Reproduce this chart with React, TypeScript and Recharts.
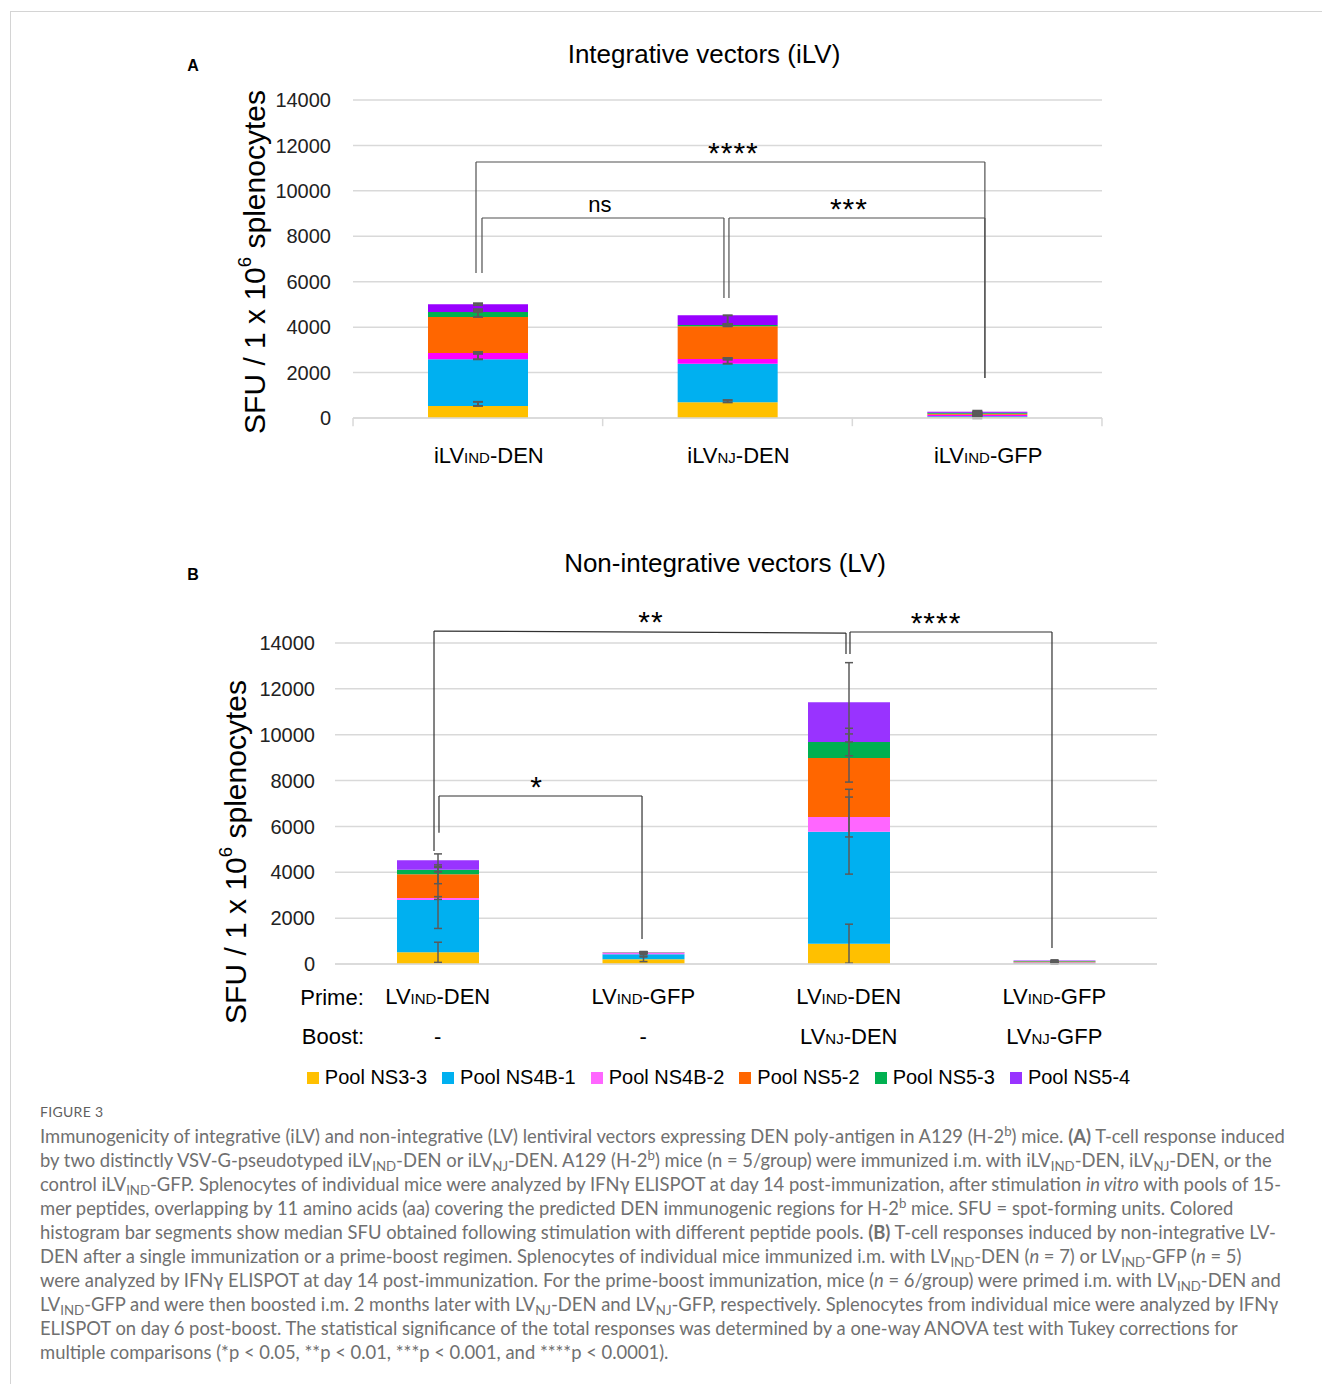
import React from 'react';
import { BarChart, Bar, XAxis, YAxis, CartesianGrid, ErrorBar, ReferenceLine, Legend } from 'recharts';

const FONT = '"Liberation Sans", Arial, sans-serif';

// peptide pools (legend order = stack order, bottom to top)
const pools = ['Pool NS3-3', 'Pool NS4B-1', 'Pool NS4B-2', 'Pool NS5-2', 'Pool NS5-3', 'Pool NS5-4'];
const poolKeys = ['ns33', 'ns4b1', 'ns4b2', 'ns52', 'ns53', 'ns54'];
const colorsA = ['#FFC000', '#00B0F0', '#FF00FF', '#FF6600', '#00B050', '#9900FF'];
const colorsB = ['#FFC000', '#00B0F0', '#FF66FF', '#FF6600', '#00B050', '#9933FF'];
const yTicks = [0, 2000, 4000, 6000, 8000, 10000, 12000, 14000];

// Panel A - integrative vectors
const groupsA = ['iLVIND-DEN', 'iLVNJ-DEN', 'iLVIND-GFP'];
const vectorA = ['IND', 'NJ', 'IND'];
const insertA = ['DEN', 'DEN', 'GFP'];
const ns33A = [530, 690, 30];
const ns4b1A = [2055, 1700, 50];
const ns4b2A = [280, 207, 60];
const ns52A = [1585, 1440, 50];
const ns53A = [220, 57, 40];
const ns54A = [340, 427, 50];
const errNs33A = [[0, 180], [0, 100], [40, 40]];
const errNs4b1A = [[0, 300], [0, 250], [40, 40]];
const errNs4b2A = [[40, 40], [30, 30], [40, 40]];
const errNs52A = [[0, 280], [0, 80], [40, 40]];
const errNs53A = [[0, 120], [30, 30], [40, 40]];
const errNs54A = [[40, 40], [380, 0], [40, 40]];

// Panel B - non-integrative vectors
const groupsB = ['LVIND-DEN', 'LVIND-GFP', 'LVIND-DEN/LVNJ-DEN', 'LVIND-GFP/LVNJ-GFP'];
const primeVecB = ['IND', 'IND', 'IND', 'IND'];
const primeInsB = ['DEN', 'GFP', 'DEN', 'GFP'];
const boostVecB = ['', '', 'NJ', 'NJ'];
const boostInsB = ['', '', 'DEN', 'GFP'];
const ns33B = [510, 205, 886, 20];
const ns4b1B = [2281, 218, 4884, 30];
const ns4b2B = [87, 57, 641, 30];
const ns52B = [1034, 10, 2573, 30];
const ns53B = [201, 10, 698, 20];
const ns54B = [409, 10, 1731, 20];
const errNs33B = [440, 100, 850, 30];
const errNs4b1B = [1240, 80, 1850, 30];
const errNs4b2B = [60, 60, 870, 30];
const errNs52B = [410, 30, 1050, 30];
const errNs53B = [100, 30, 600, 30];
const errNs54B = [280, 30, 1730, 30];

// significance brackets (x = group index, y in SFU)
const bracketsA = [
  { label: '****', x1: -0.0074, x2: 2.031, yL: 11270, yR: 11270, y1: 6385, y2: 1760, dx: 3 },
  { label: 'ns', x1: 0.0166, x2: 0.9858, yL: 8806, yR: 8806, y1: 6385, y2: 5284, dx: -3 },
  { label: '***', x1: 1.0058, x2: 2.031, yL: 8806, yR: 8806, y1: 5284, y2: 1760, dx: -8 },
];
const bracketsB = [
  { label: '**', x1: -0.0182, x2: 1.9866, yL: 14520, yR: 14435, y1: 4928, y2: 13520, dx: 11 },
  { label: '****', x1: 2.006, x2: 2.989, yL: 14480, yR: 14480, y1: 13520, y2: 700, dx: -15 },
  { label: '*', x1: 0.006, x2: 0.994, yL: 7327, yR: 7327, y1: 5723, y2: 1090, dx: -4 },
];
// category boundaries for the tick marks of panel A
const boundsA = [-0.5, 0.5, 1.5, 2.5];

const buildRows = (groups: string[], values: number[][], errors: any[][]) =>
  groups.map((g, i) => {
    const row: any = { group: g };
    poolKeys.forEach((k, j) => {
      row[k] = values[j][i];
      row['e_' + k] = errors[j][i];
    });
    return row;
  });

const dataA = buildRows(
  groupsA,
  [ns33A, ns4b1A, ns4b2A, ns52A, ns53A, ns54A],
  [errNs33A, errNs4b1A, errNs4b2A, errNs52A, errNs53A, errNs54A]
);
const dataB = buildRows(
  groupsB,
  [ns33B, ns4b1B, ns4b2B, ns52B, ns53B, ns54B],
  [errNs33B, errNs4b1B, errNs4b2B, errNs52B, errNs53B, errNs54B]
);

const TickA = (props: any) => {
  const { x, y, payload } = props;
  const i = payload.index ?? props.index;
  return (
    <text x={x + 11} y={y + 45} textAnchor="middle" fontFamily={FONT} fontSize={22} fill="#000">
      <tspan>iLV</tspan>
      <tspan fontSize={15}>{vectorA[i]}</tspan>
      <tspan>{'-' + insertA[i]}</tspan>
    </text>
  );
};

const TickB = (props: any) => {
  const { x, y, payload } = props;
  const i = payload.index ?? props.index;
  return (
    <g>
      <text x={x} y={y + 40} textAnchor="middle" fontFamily={FONT} fontSize={22} fill="#000">
        <tspan>LV</tspan>
        <tspan fontSize={15}>{primeVecB[i]}</tspan>
        <tspan>{'-' + primeInsB[i]}</tspan>
      </text>
      <text x={x} y={y + 80} textAnchor="middle" fontFamily={FONT} fontSize={22} fill="#000">
        {boostVecB[i] ? (
          <>
            <tspan>LV</tspan>
            <tspan fontSize={15}>{boostVecB[i]}</tspan>
            <tspan>{'-' + boostInsB[i]}</tspan>
          </>
        ) : (
          '-'
        )}
      </text>
    </g>
  );
};

const renderBrackets = (list: any[], stroke: string) =>
  list.flatMap((b, n) => {
    const isNs = b.label === 'ns';
    return [
      <ReferenceLine key={'l' + n} xAxisId="n" ifOverflow="visible" stroke={stroke} strokeWidth={1.2}
        segment={[{ x: b.x1, y: b.y1 }, { x: b.x1, y: b.yL }]} />,
      <ReferenceLine key={'t' + n} xAxisId="n" ifOverflow="visible" stroke={stroke} strokeWidth={1.2}
        segment={[{ x: b.x1, y: b.yL }, { x: b.x2, y: b.yR }]}
        label={{ value: b.label, position: 'top', offset: isNs ? 6 : -1, dx: b.dx, fill: '#000',
          fontSize: isNs ? 22 : 30, fontFamily: FONT, letterSpacing: isNs ? 0 : 1 }} />,
      <ReferenceLine key={'r' + n} xAxisId="n" ifOverflow="visible" stroke={stroke} strokeWidth={1.2}
        segment={[{ x: b.x2, y: b.yR }, { x: b.x2, y: b.y2 }]} />,
    ];
  });

const renderLegend = (props: any) => (
  <div style={{ display: 'flex', justifyContent: 'center', fontFamily: FONT, fontSize: 20, color: '#000', whiteSpace: 'nowrap' }}>
    {(props.payload || []).filter((p: any) => p.type !== 'none').map((p: any) => (
      <span key={p.value} style={{ display: 'inline-flex', alignItems: 'center', marginRight: 15, whiteSpace: 'nowrap' }}>
        <span style={{ display: 'inline-block', width: 12, height: 12, background: p.color, marginRight: 6 }} />
        {p.value}
      </span>
    ))}
  </div>
);

const YLabel = ({ x, y }: { x: number; y: number }) => (
  <div style={{ position: 'absolute', left: x, top: y, transform: 'translate(-50%, -50%) rotate(-90deg)',
    whiteSpace: 'nowrap', fontFamily: FONT, fontSize: 30, lineHeight: 1, color: '#000' }}>
    SFU / 1 x 10<span style={{ fontSize: '0.62em', verticalAlign: '0.75em', lineHeight: 0 }}>6</span> splenocytes
  </div>
);

const Abs = ({ x, y, children, style }: any) => (
  <div style={{ position: 'absolute', left: x, top: y, transform: 'translate(-50%, -50%)', whiteSpace: 'nowrap',
    fontFamily: FONT, lineHeight: 1, color: '#000', ...style }}>{children}</div>
);

const Sub = ({ children }: any) => (
  <span style={{ fontSize: '0.72em', verticalAlign: '-0.3em', lineHeight: 0 }}>{children}</span>
);
const Sup = ({ children }: any) => (
  <span style={{ fontSize: '0.72em', verticalAlign: '0.5em', lineHeight: 0 }}>{children}</span>
);

const captionLines = [
  <>Immunogenicity of integrative (iLV) and non-integrative (LV) lentiviral vectors expressing DEN poly-antigen in A129 (H-2<Sup>b</Sup>) mice. <b>(A)</b> T-cell response induced</>,
  <>by two distinctly VSV-G-pseudotyped iLV<Sub>IND</Sub>-DEN or iLV<Sub>NJ</Sub>-DEN. A129 (H-2<Sup>b</Sup>) mice (n = 5/group) were immunized i.m. with iLV<Sub>IND</Sub>-DEN, iLV<Sub>NJ</Sub>-DEN, or the</>,
  <>control iLV<Sub>IND</Sub>-GFP. Splenocytes of individual mice were analyzed by IFNγ ELISPOT at day 14 post-immunization, after stimulation <i>in vitro</i> with pools of 15-</>,
  <>mer peptides, overlapping by 11 amino acids (aa) covering the predicted DEN immunogenic regions for H-2<Sup>b</Sup> mice. SFU = spot-forming units. Colored</>,
  <>histogram bar segments show median SFU obtained following stimulation with different peptide pools. <b>(B)</b> T-cell responses induced by non-integrative LV-</>,
  <>DEN after a single immunization or a prime-boost regimen. Splenocytes of individual mice immunized i.m. with LV<Sub>IND</Sub>-DEN (<i>n</i> = 7) or LV<Sub>IND</Sub>-GFP (<i>n</i> = 5)</>,
  <>were analyzed by IFNγ ELISPOT at day 14 post-immunization. For the prime-boost immunization, mice (<i>n</i> = 6/group) were primed i.m. with LV<Sub>IND</Sub>-DEN and</>,
  <>LV<Sub>IND</Sub>-GFP and were then boosted i.m. 2 months later with LV<Sub>NJ</Sub>-DEN and LV<Sub>NJ</Sub>-GFP, respectively. Splenocytes from individual mice were analyzed by IFNγ</>,
  <>ELISPOT on day 6 post-boost. The statistical significance of the total responses was determined by a one-way ANOVA test with Tukey corrections for</>,
  <>multiple comparisons (*p &lt; 0.05, **p &lt; 0.01, ***p &lt; 0.001, and ****p &lt; 0.0001).</>,
];

export default function App() {
  return (
    <div style={{ position: 'absolute', left: 0, top: 0, width: 1322, height: 1384, background: '#fff', overflow: 'hidden' }}>
      <div style={{ position: 'absolute', left: 10, top: 11, width: 1330, height: 1400, borderTop: '1px solid #d4d4d4', borderLeft: '1px solid #d4d4d4' }} />

      {/* Panel A */}
      <Abs x={193} y={66} style={{ fontSize: 16, fontWeight: 'bold' }}>A</Abs>
      <Abs x={704} y={54} style={{ fontSize: 26 }}>Integrative vectors (iLV)</Abs>
      <YLabel x={255} y={262} />
      <div style={{ position: 'absolute', left: 230, top: 80 }}>
        <BarChart width={900} height={400} data={dataA} margin={{ top: 20, right: 28, bottom: 12, left: 0 }} barSize={100}>
          <CartesianGrid vertical={false} stroke="#d9d9d9" strokeWidth={1.5} />
          <XAxis xAxisId="n" type="number" hide padding={{ left: 124.85, right: 124.85 }} />
          <XAxis dataKey="group" interval={0} tick={<TickA />} tickSize={0} tickMargin={0} tickLine={false}
            axisLine={{ stroke: '#d9d9d9', strokeWidth: 1.5 }} height={50} />
          <XAxis xAxisId="e" dataKey="group" hide />
          <YAxis domain={[0, 14000]} ticks={yTicks} width={123} axisLine={false} tickLine={false} tickSize={0}
            tickMargin={22} tick={{ fill: '#222', fontSize: 20, fontFamily: FONT }} />
          {poolKeys.map((k, j) => (
            <Bar key={k} dataKey={k} name={pools[j]} stackId="a" fill={colorsA[j]} isAnimationActive={false} />
          ))}
          {poolKeys.map((k) => (
            <Bar key={'e' + k} xAxisId="e" dataKey={k} stackId="e" fill="transparent" legendType="none" isAnimationActive={false}>
              <ErrorBar dataKey={'e_' + k} direction="y" width={5} stroke="#5a5a5a" strokeWidth={2} isAnimationActive={false} />
            </Bar>
          ))}
          {boundsA.map((b) => (
            <ReferenceLine key={'tick' + b} xAxisId="n" ifOverflow="visible" stroke="#d9d9d9" strokeWidth={1.5}
              segment={[{ x: b, y: 0 }, { x: b, y: -360 }]} />
          ))}
          {renderBrackets(bracketsA, '#505050')}
        </BarChart>
      </div>

      {/* Panel B */}
      <Abs x={193} y={575} style={{ fontSize: 16, fontWeight: 'bold' }}>B</Abs>
      <Abs x={725} y={563} style={{ fontSize: 26 }}>Non-integrative vectors (LV)</Abs>
      <YLabel x={236} y={852} />
      <Abs x={332} y={998} style={{ fontSize: 22 }}>Prime:</Abs>
      <Abs x={333} y={1037} style={{ fontSize: 22 }}>Boost:</Abs>
      <div style={{ position: 'absolute', left: 200, top: 600 }}>
        <BarChart width={980} height={500} data={dataB} margin={{ top: 43, right: 23, bottom: 46, left: 0 }} barSize={82}>
          <CartesianGrid vertical={false} stroke="#d9d9d9" strokeWidth={1.5} />
          <XAxis xAxisId="n" type="number" hide padding={{ left: 102.75, right: 102.75 }} />
          <XAxis dataKey="group" interval={0} tick={<TickB />} tickSize={0} tickMargin={0} tickLine={false}
            axisLine={{ stroke: '#d9d9d9', strokeWidth: 1.5 }} height={90} />
          <XAxis xAxisId="e" dataKey="group" hide />
          <YAxis domain={[0, 14000]} ticks={yTicks} width={135} axisLine={false} tickLine={false} tickSize={0}
            tickMargin={20} tick={{ fill: '#222', fontSize: 20, fontFamily: FONT }} />
          {poolKeys.map((k, j) => (
            <Bar key={k} dataKey={k} name={pools[j]} stackId="a" fill={colorsB[j]} isAnimationActive={false} />
          ))}
          {poolKeys.map((k) => (
            <Bar key={'e' + k} xAxisId="e" dataKey={k} stackId="e" fill="transparent" legendType="none" isAnimationActive={false}>
              <ErrorBar dataKey={'e_' + k} direction="y" width={4} stroke="#5a5a5a" strokeWidth={1.5} isAnimationActive={false} />
            </Bar>
          ))}
          {renderBrackets(bracketsB, '#303030')}
          <Legend layout="horizontal" verticalAlign="middle" align="center" content={renderLegend}
            wrapperStyle={{ left: 46, top: 466, width: 960 }} />
        </BarChart>
      </div>

      {/* Caption */}
      <div style={{ position: 'absolute', left: 40, top: 1100, fontFamily: 'Lato, "Open Sans", sans-serif', color: '#707070' }}>
        <div style={{ fontSize: 14, lineHeight: '24px', letterSpacing: 0.3, color: '#5f5f5f' }}>FIGURE 3</div>
        {captionLines.map((line, i) => (
          <div key={i} style={{ fontSize: 18.4, lineHeight: '24px', whiteSpace: 'nowrap' }}>{line}</div>
        ))}
      </div>
    </div>
  );
}
